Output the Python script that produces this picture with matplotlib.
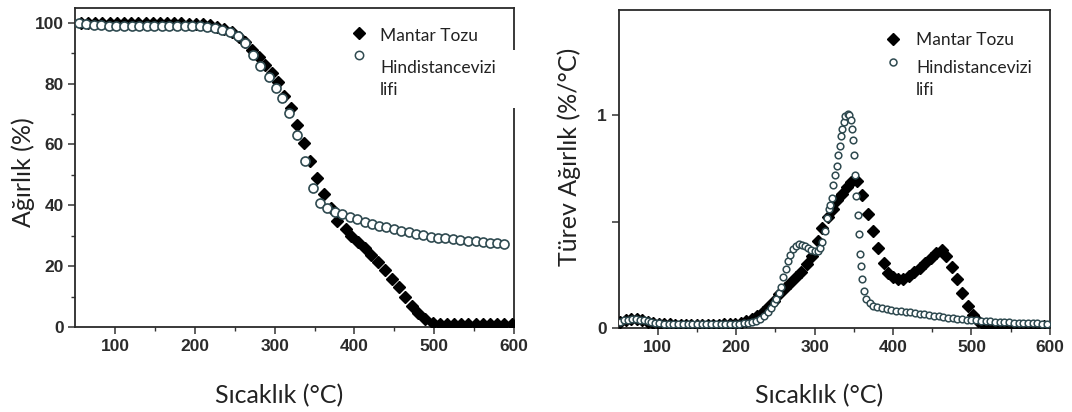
import numpy as np
import matplotlib
matplotlib.use("Agg")
import matplotlib.pyplot as plt
from matplotlib.patches import Rectangle

# TGA - Mantar Tozu (ağırlık %)
tga_mantar_T = [57, 66, 75, 84, 93, 102, 111, 120, 129, 138,
                147, 156, 165, 174, 183, 192, 201, 210, 219, 228,
                237, 246, 255, 263, 272, 280, 288, 297, 304, 312,
                320, 328, 337, 344, 353, 362, 370, 378, 389, 396,
                404, 413, 421, 429, 438, 447, 456, 463, 472, 480,
                489, 499, 507, 516, 525, 534, 543, 552, 561, 570,
                579, 588, 597]
tga_mantar_W = [100, 100, 100, 100, 100, 100, 100, 100, 100, 100,
                99.9, 99.9, 99.9, 99.8, 99.8, 99.7, 99.6, 99.4, 99.1, 98.6,
                97.8, 96.8, 95.4, 93.6, 91.1, 88.6, 86.2, 83.4, 80.4, 75.8,
                71.9, 66.4, 60.6, 54.7, 48.9, 43.8, 39.2, 34.9, 32.2, 29.9,
                28.0, 26.0, 23.7, 21.4, 18.8, 15.8, 13.2, 9.9, 6.9, 4.6,
                2.6, 1.3, 1.0, 1.0, 1.0, 1.0, 1.0, 1.0, 1.0, 1.0,
                1.0, 1.0, 1.0]

# TGA - Hindistancevizi lifi
tga_hindi_T = [54, 63.5, 73, 82.5, 92, 101.5, 111, 120.5, 130, 139.5,
               149, 158.5, 168, 177.5, 187, 196.5, 206, 215.5, 225, 234.5,
               244, 253.5, 263, 272.5, 282, 292.5, 301, 309.5, 318.5, 328.5,
               338, 347.5, 357, 366, 375, 384, 394, 403, 413, 421.5,
               431, 440, 450, 459, 468, 477, 486, 496, 505, 514,
               524, 533, 542.5, 552, 561, 570, 579, 588]
tga_hindi_W = [99.8, 99.5, 99.3, 99.1, 99.0, 99.0, 99.0, 99.0, 99.0, 99.0,
               99.0, 99.0, 99.0, 99.0, 99.0, 99.0, 98.9, 98.7, 98.3, 97.7,
               96.9, 95.6, 93.2, 89.5, 85.6, 82.1, 78.5, 75.2, 70.3, 63.2,
               54.7, 45.8, 40.9, 39.0, 37.9, 37.0, 36.3, 35.5, 34.6, 33.9,
               33.3, 32.7, 32.1, 31.6, 31.1, 30.6, 30.3, 29.7, 29.4, 29.2,
               28.9, 28.6, 28.4, 28.2, 28.0, 27.7, 27.5, 27.3]

# DTG - Mantar Tozu (%/°C)
dtg_mantar_T = [52, 59, 66, 73, 80, 87, 94, 101, 108, 115,
                122, 129, 136, 143, 150, 157, 164, 171, 178, 185,
                192, 199, 206, 213, 220, 227, 234, 241, 248, 255,
                262, 269, 276, 283, 290, 297, 304, 310, 317, 323,
                329, 335, 341, 347, 354, 361, 368, 375, 381, 388,
                394, 400, 406, 413, 420, 427, 434, 441, 448, 455,
                462, 468, 475, 482, 488, 495, 502, 508, 515, 522,
                529, 536, 543, 550, 557, 564, 571, 578, 585, 592]
dtg_mantar_D = [0.030, 0.040, 0.045, 0.045, 0.040, 0.032, 0.026, 0.022, 0.020, 0.019,
                0.018, 0.018, 0.017, 0.017, 0.017, 0.017, 0.017, 0.018, 0.018, 0.019,
                0.020, 0.022, 0.026, 0.033, 0.043, 0.058, 0.078, 0.100, 0.130, 0.160,
                0.190, 0.215, 0.240, 0.265, 0.300, 0.340, 0.410, 0.470, 0.520, 0.560,
                0.600, 0.630, 0.660, 0.685, 0.690, 0.625, 0.535, 0.455, 0.375, 0.305,
                0.260, 0.240, 0.233, 0.233, 0.245, 0.262, 0.282, 0.305, 0.328, 0.355,
                0.368, 0.337, 0.287, 0.230, 0.168, 0.105, 0.063, 0.035, 0.020, 0.016,
                0.015, 0.014, 0.014, 0.013, 0.013, 0.013, 0.012, 0.012, 0.012, 0.012]

# DTG - Hindistancevizi lifi
dtg_hindi_T = [52, 57, 62, 67, 72, 77, 82, 87, 92, 97,
               102, 108, 114, 120, 126, 132, 138, 144, 150, 156,
               162, 168, 174, 180, 186, 192, 198, 204, 210, 215,
               220, 225, 230, 235, 240, 244, 248, 251, 254, 257,
               260, 263, 266, 269, 272, 276, 280, 284, 288, 292,
               296, 300, 304, 307, 310, 313, 316, 318, 320, 322,
               324, 326, 328, 330, 332, 333, 335, 337, 339, 342,
               344, 346, 347.7, 349, 350, 352, 353.3, 355, 356.3, 357.3,
               358.5, 360.5, 363, 366, 370, 375, 380, 386, 392, 398,
               404, 410, 416, 422, 428, 434, 440, 446, 452, 458,
               464, 470, 476, 482, 488, 494, 500, 506, 512, 518,
               524, 530, 536, 542, 548, 554, 560, 566, 572, 578,
               584, 590, 596]
dtg_hindi_D = [0.030, 0.038, 0.042, 0.044, 0.044, 0.042, 0.038, 0.033, 0.029, 0.026,
               0.024, 0.023, 0.022, 0.021, 0.021, 0.020, 0.020, 0.020, 0.020, 0.020,
               0.020, 0.020, 0.020, 0.021, 0.021, 0.021, 0.022, 0.023, 0.024, 0.027,
               0.031, 0.037, 0.046, 0.058, 0.075, 0.095, 0.118, 0.140, 0.165, 0.195,
               0.240, 0.280, 0.315, 0.345, 0.370, 0.385, 0.393, 0.392, 0.387, 0.378,
               0.368, 0.362, 0.362, 0.375, 0.405, 0.455, 0.515, 0.560, 0.580, 0.610,
               0.670, 0.720, 0.760, 0.810, 0.855, 0.900, 0.935, 0.965, 0.995, 1.005,
               1.000, 0.975, 0.935, 0.880, 0.810, 0.720, 0.620, 0.530, 0.440, 0.350,
               0.290, 0.230, 0.175, 0.140, 0.118, 0.105, 0.099, 0.094, 0.090, 0.087,
               0.084, 0.081, 0.078, 0.075, 0.072, 0.069, 0.066, 0.063, 0.060, 0.057,
               0.054, 0.051, 0.048, 0.046, 0.044, 0.042, 0.040, 0.038, 0.036, 0.035,
               0.033, 0.032, 0.031, 0.030, 0.029, 0.028, 0.027, 0.026, 0.025, 0.025,
               0.024, 0.023, 0.022]

x_ticks = [100, 200, 300, 400, 500, 600]
seri_adlari = ["Mantar Tozu", "Hindistancevizi", "lifi"]

circle_edge = "#2f4a50"
label_font = "Lato"
tick_font = "Liberation Sans"

fig = plt.figure(figsize=(10.72, 4.12), dpi=100)
ax1 = fig.add_axes([0.0703, 0.2063, 0.4091, 0.7735])
ax2 = fig.add_axes([0.5770, 0.2027, 0.4024, 0.7731])


def eksen_ayarla(ax):
    ax.set_xlim(50, 600)
    ax.set_xticks(x_ticks)
    ax.set_xticks([150, 250, 350, 450, 550], minor=True)
    ax.tick_params(which="major", direction="out", length=5, width=1.1, color="#333333")
    ax.tick_params(which="minor", direction="out", length=3, width=1.0, color="#333333")
    for s in ax.spines.values():
        s.set_linewidth(1.3)
        s.set_color("#2a2a2a")
    for lab in ax.get_xticklabels() + ax.get_yticklabels():
        lab.set_fontfamily(tick_font)
        lab.set_fontweight("bold")
        lab.set_fontsize(12.5)
        lab.set_color("#2b2b2b")
    ax.set_xlabel("Sıcaklık (°C)", fontsize=18, family=label_font, color="#222222")


# Sol grafik: TGA
ax1.plot(tga_mantar_T, tga_mantar_W, ls="none", marker="D", ms=6.5,
         color="black", zorder=3)
ax1.plot(tga_hindi_T, tga_hindi_W, ls="none", marker="o", ms=6.5,
         mfc="white", mec=circle_edge, mew=1.2, zorder=4)
ax1.set_ylim(0, 104.7)
ax1.set_yticks([0, 20, 40, 60, 80, 100])
ax1.set_yticks([10, 30, 50, 70, 90], minor=True)
eksen_ayarla(ax1)
ax1.set_ylabel("Ağırlık (%)", fontsize=18, family=label_font, color="#222222")
ax1.yaxis.set_label_coords(-0.092, 0.486)
ax1.xaxis.set_label_coords(0.464, -0.18)

# Sağ grafik: DTG
ax2.plot(dtg_mantar_T, dtg_mantar_D, ls="none", marker="D", ms=6.0,
         color="black", zorder=3)
ax2.plot(dtg_hindi_T, dtg_hindi_D, ls="none", marker="o", ms=4.8,
         mfc="white", mec=circle_edge, mew=1.1, zorder=4)
ax2.set_ylim(0, 1.49)
ax2.set_yticks([0, 0.5, 1])
ax2.set_yticklabels(["0", "", "1"])
eksen_ayarla(ax2)
ax2.set_ylabel("Türev Ağırlık (%/°C)", fontsize=18, family=label_font, color="#222222")
ax2.yaxis.set_label_coords(-0.087, 0.538)
ax2.xaxis.set_label_coords(0.4645, -0.175)

# Lejantlar
for ax, mx, my1, my2, tx, ty1, ty2, ty3, dms, cms in [
        (ax1, 0.647, 0.9216, 0.8535, 0.6945, 0.914, 0.8117, 0.7437, 6.0, 6.0),
        (ax2, 0.6368, 0.908, 0.8377, 0.6894, 0.906, 0.817, 0.749, 6.0, 5.0)]:
    ax.plot([mx], [my1], transform=ax.transAxes, marker="D", ms=dms, color="black",
            ls="none", clip_on=False, zorder=5)
    ax.plot([mx], [my2], transform=ax.transAxes, marker="o", ms=cms, mfc="white",
            mec=circle_edge, mew=1.1, ls="none", clip_on=False, zorder=5)
    ax.text(tx, ty1, seri_adlari[0], transform=ax.transAxes, fontsize=12.5,
            family=label_font, color="#222222", va="center", ha="left")
    ax.text(tx, ty2, seri_adlari[1], transform=ax.transAxes, fontsize=12.5,
            family=label_font, color="#222222", va="center", ha="left")
    ax.text(tx, ty3, seri_adlari[2], transform=ax.transAxes, fontsize=12.5,
            family=label_font, color="#222222", va="center", ha="left")

# lejant kutusu sol grafiğin sağ kenarını örtüyor
fig.patches.append(Rectangle((508 / 1072, 1 - 108 / 412), 14 / 1072, 58 / 412,
                             transform=fig.transFigure, facecolor="white",
                             edgecolor="none", zorder=10))

fig.savefig("out.png", dpi=100)
